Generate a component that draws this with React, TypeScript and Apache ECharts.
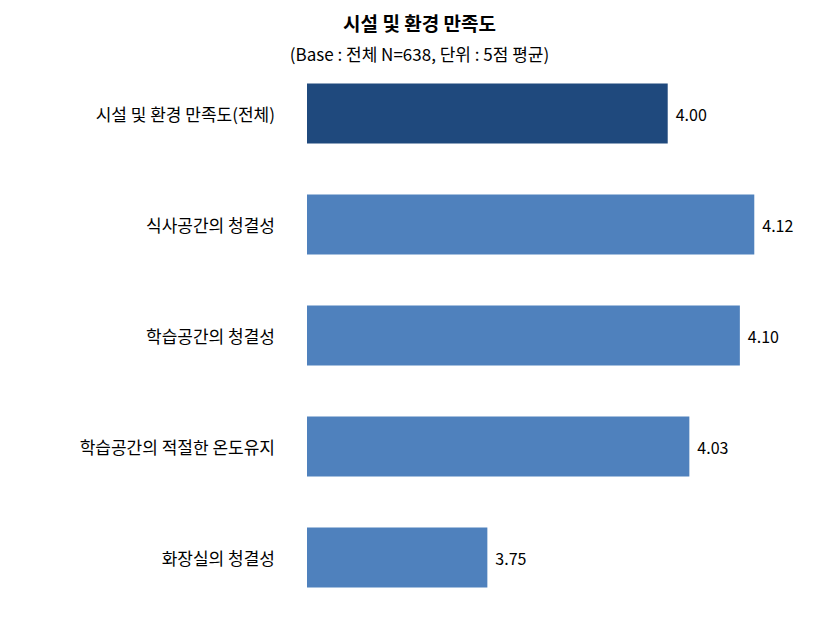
import React, { useEffect, useRef } from "react";
import * as echarts from "echarts";

const categories = [
  "시설 및 환경 만족도(전체)",
  "식사공간의 청결성",
  "학습공간의 청결성",
  "학습공간의 적절한 온도유지",
  "화장실의 청결성",
];
const values = [4.0, 4.12, 4.1, 4.03, 3.75];
const barColors = ["#1F497D", "#4F81BD", "#4F81BD", "#4F81BD", "#4F81BD"];
const titleText = "시설 및 환경 만족도";
const subtitleText = "(Base : 전체 N=638, 단위 : 5점 평균)";

const FONT = "'Noto Sans CJK KR', 'Noto Sans', sans-serif";

export default function App() {
  const ref = useRef<HTMLDivElement>(null);
  useEffect(() => {
    if (!ref.current) return;
    const chart = echarts.init(ref.current, undefined, { renderer: "svg" });
    chart.setOption({
      animation: false,
      backgroundColor: "#ffffff",
      title: [
        {
          text: titleText,
          left: "center",
          top: 8,
          textStyle: { fontFamily: FONT, fontSize: 19, fontWeight: "bold", color: "#000" },
        },
        {
          text: subtitleText,
          left: "center",
          top: 40,
          textStyle: { fontFamily: FONT, fontSize: 17, fontWeight: "normal", color: "#000" },
        },
      ],
      grid: { left: 307, right: 27, top: 58, bottom: 12, containLabel: false },
      xAxis: {
        type: "value",
        min: 3.5,
        max: 4.2,
        show: false,
        splitLine: { show: false },
      },
      yAxis: {
        type: "category",
        data: categories,
        inverse: true,
        axisLine: { show: false },
        axisTick: { show: false },
        axisLabel: {
          margin: 32,
          fontFamily: FONT,
          fontSize: 17,
          color: "#000",
        },
      },
      series: [
        {
          type: "bar",
          data: values.map((v, i) => ({ value: v, itemStyle: { color: barColors[i] } })),
          barWidth: 60,
          label: {
            show: true,
            position: "right",
            distance: 8,
            fontFamily: FONT,
            fontSize: 16,
            color: "#000",
            formatter: (p: any) => Number(p.value).toFixed(2),
          },
        },
      ],
    });
    return () => chart.dispose();
  }, []);
  return <div ref={ref} style={{ width: 839, height: 625, position: "absolute", left: 0, top: 0 }} />;
}
